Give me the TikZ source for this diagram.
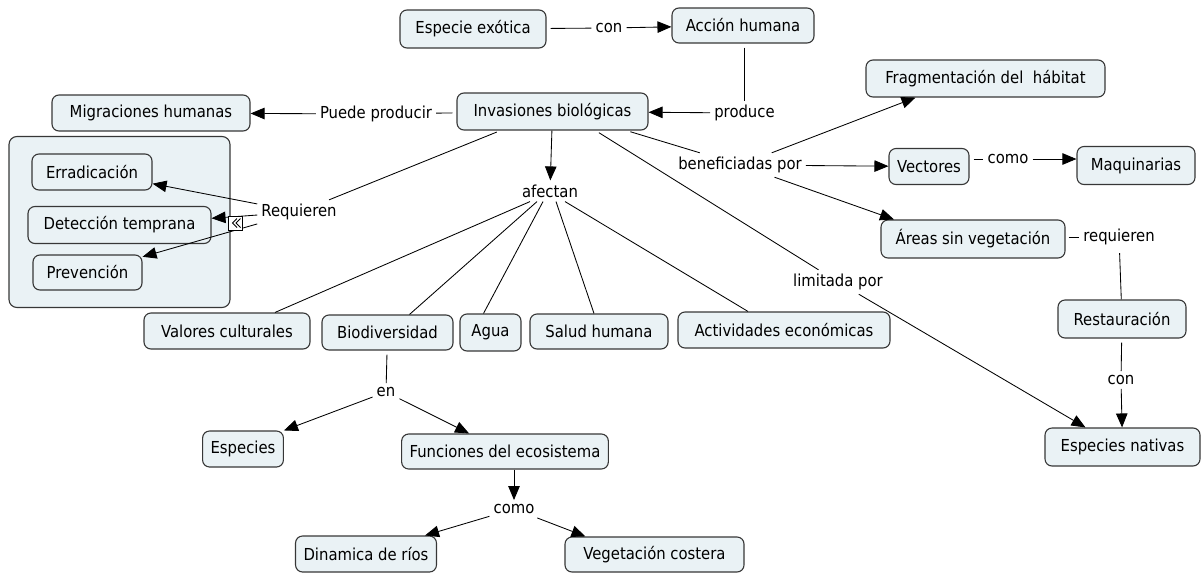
\documentclass[tikz,border=0pt]{standalone}
\usepackage{fontspec}
\setmainfont{DejaVu Sans Condensed}
\usetikzlibrary{arrows.meta}
\definecolor{boxfill}{RGB}{234,242,245}
\definecolor{boxline}{RGB}{55,55,55}
\begin{document}
\begin{tikzpicture}[x=1pt,y=-1pt,
  font=\fontsize{16.5}{19}\selectfont,
  concept/.style={draw=boxline, fill=boxfill, rounded corners=7pt, line width=1.1pt, inner xsep=8pt, inner ysep=0pt},
  linkword/.style={inner sep=4pt},
  conn/.style={line width=0.85pt, draw=black},
  arr/.style={conn, -{Triangle[length=14pt,width=11.5pt]}},
  fromnode/.style={shorten <=4pt},
]
\useasboundingbox (0,0) rectangle (1201,573);

% nested group around the required actions
\node[concept, rounded corners=8pt, minimum width=221pt, minimum height=171pt] (grp) at (119.5,222) {};

% concepts
\node[concept, minimum width=146pt, minimum height=38pt] (esp) at (473,29) {Especie exótica};
\node[concept, minimum width=142pt, minimum height=35pt] (acc) at (743,25.5) {Acción humana};
\node[concept, minimum width=191pt, minimum height=37pt] (inv) at (552.5,111.5) {Invasiones biológicas};
\node[concept, minimum width=198pt, minimum height=36pt] (mig) at (151,113) {Migraciones humanas};
\node[concept, minimum width=239pt, minimum height=37pt] (frag) at (985.5,78.5) {Fragmentación del \ hábitat};
\node[concept, minimum width=80pt, minimum height=36pt] (vec) at (929,166.5) {Vectores};
\node[concept, minimum width=118pt, minimum height=38pt] (maq) at (1136,165.5) {Maquinarias};
\node[concept, minimum width=184pt, minimum height=38pt] (are) at (973,239) {Áreas sin vegetación};
\node[concept, minimum width=128pt, minimum height=38pt] (res) at (1122,319) {Restauración};
\node[concept, minimum width=155pt, minimum height=38pt] (nat) at (1122.5,447) {Especies nativas};
\node[concept, minimum width=120pt, minimum height=36pt] (err) at (92,172) {Erradicación};
\node[concept, minimum width=183pt, minimum height=37pt] (det) at (119.5,225) {Detección temprana};
\node[concept, minimum width=109pt, minimum height=35pt] (pre) at (87.5,272.5) {Prevención};
\node[concept, minimum width=166pt, minimum height=36pt] (val) at (227,331) {Valores culturales};
\node[concept, minimum width=131pt, minimum height=35pt] (bio) at (387.5,332.5) {Biodiversidad};
\node[concept, minimum width=61pt, minimum height=37pt] (agu) at (490.5,332.5) {Agua};
\node[concept, minimum width=138pt, minimum height=35pt] (sal) at (599,331.5) {Salud humana};
\node[concept, minimum width=212pt, minimum height=36pt] (act) at (784,330) {Actividades económicas};
\node[concept, minimum width=78pt, minimum height=36pt] (spc) at (243,449) {Especies};
\node[concept, minimum width=204pt, minimum height=35pt] (fun) at (505,451.5) {Funciones del ecosistema};
\node[concept, minimum width=136pt, minimum height=36pt] (din) at (366,554) {Dinamica de ríos};
\node[concept, minimum width=179pt, minimum height=35pt] (veg) at (654.5,554.5) {Vegetación costera};

% linking words
\node[linkword] (lcon) at (609,28) {con};
\node[linkword] (lproduce) at (744.5,113) {produce};
\node[linkword] (lpuede) at (376,114) {Puede producir};
\node[linkword] (lafectan) at (550,191) {afectan};
\node[linkword] (lbenef) at (740,165) {beneficiadas por};
\node[linkword] (lcomo) at (1008,159) {como};
\node[linkword] (lreq) at (1119,237) {requieren};
\node[linkword] (lcontwo) at (1121,380) {con};
\node[linkword] (llim) at (838,282) {limitada por};
\node[linkword] (lRequieren) at (299,212) {Requieren};
\node[linkword] (len) at (386,392) {en};
\node[linkword] (lcomotwo) at (514,509) {como};

% connectors
\draw[conn, fromnode] (esp) -- (lcon);
\draw[arr] (lcon) -- (acc);
\draw[conn, fromnode] (acc.south -| lproduce) -- (lproduce);
\draw[arr] (lproduce) -- (inv);
\draw[conn, fromnode] (inv) -- (lpuede);
\draw[arr] (lpuede) -- (mig);
\draw[arr] (inv) -- (lafectan);
\draw[conn, fromnode] ([xshift=-52pt]inv.south) -- (lRequieren);
\draw[conn, fromnode] ([xshift=74pt]inv.south) -- (lbenef);
\draw[conn, fromnode] ([xshift=43pt]inv.south) -- (llim);
\draw[arr] (llim) -- ([xshift=-37pt]nat.north);

\draw[conn] ([xshift=-20pt]lafectan.south) -- ([xshift=48pt]val.north);
\draw[conn] ([xshift=-13pt]lafectan.south) -- ([xshift=22pt]bio.north);
\draw[conn] ([xshift=-7pt]lafectan.south) -- ([xshift=-7pt]agu.north);
\draw[conn] ([xshift=6pt]lafectan.south) -- ([xshift=-5pt]sal.north);
\draw[conn] ([xshift=15pt]lafectan.south) -- ([xshift=-36pt]act.north);

\draw[arr] (lbenef) -- ([xshift=-70pt]frag.south);
\draw[arr] (lbenef) -- (vec);
\draw[arr] (lbenef) -- ([xshift=-79pt]are.north);

\draw[conn, fromnode] (vec.east |- lcomo) -- (lcomo);
\draw[arr] (lcomo) -- (maq.west |- lcomo);

\draw[conn, shorten <=3pt] (are.east |- lreq) -- (lreq);
\draw[conn, fromnode] (lreq) -- (res);
\draw[conn, fromnode] (res) -- (lcontwo);
\draw[arr] (lcontwo) -- (nat);

\draw[arr] (lRequieren) -- (err);
\draw[arr] (lRequieren) -- (det);
\draw[arr] (lRequieren) -- (pre);

\draw[conn, fromnode] (bio) -- (len);
\draw[arr] (len) -- (spc.north east);
\draw[arr] (len) -- ([xshift=68pt]fun.north west);
\draw[arr] (fun.south -| lcomotwo) -- (lcomotwo);
\draw[arr] (lcomotwo) -- ([xshift=-12pt]din.north east);
\draw[arr] (lcomotwo) -- ([xshift=21pt]veg.north west);

% collapse marker on the group border
\node[draw=black, fill=white, line width=0.7pt, minimum size=14pt, inner sep=0pt] (fold) at (235.5,223) {};
\draw[line width=0.8pt] ([xshift=1.5pt,yshift=-4.5pt]fold.center) -- ([xshift=-3pt]fold.center) -- ([xshift=1.5pt,yshift=4.5pt]fold.center);
\draw[line width=0.8pt] ([xshift=5pt,yshift=-4.5pt]fold.center) -- ([xshift=0.5pt]fold.center) -- ([xshift=5pt,yshift=4.5pt]fold.center);
\end{tikzpicture}
\end{document}
